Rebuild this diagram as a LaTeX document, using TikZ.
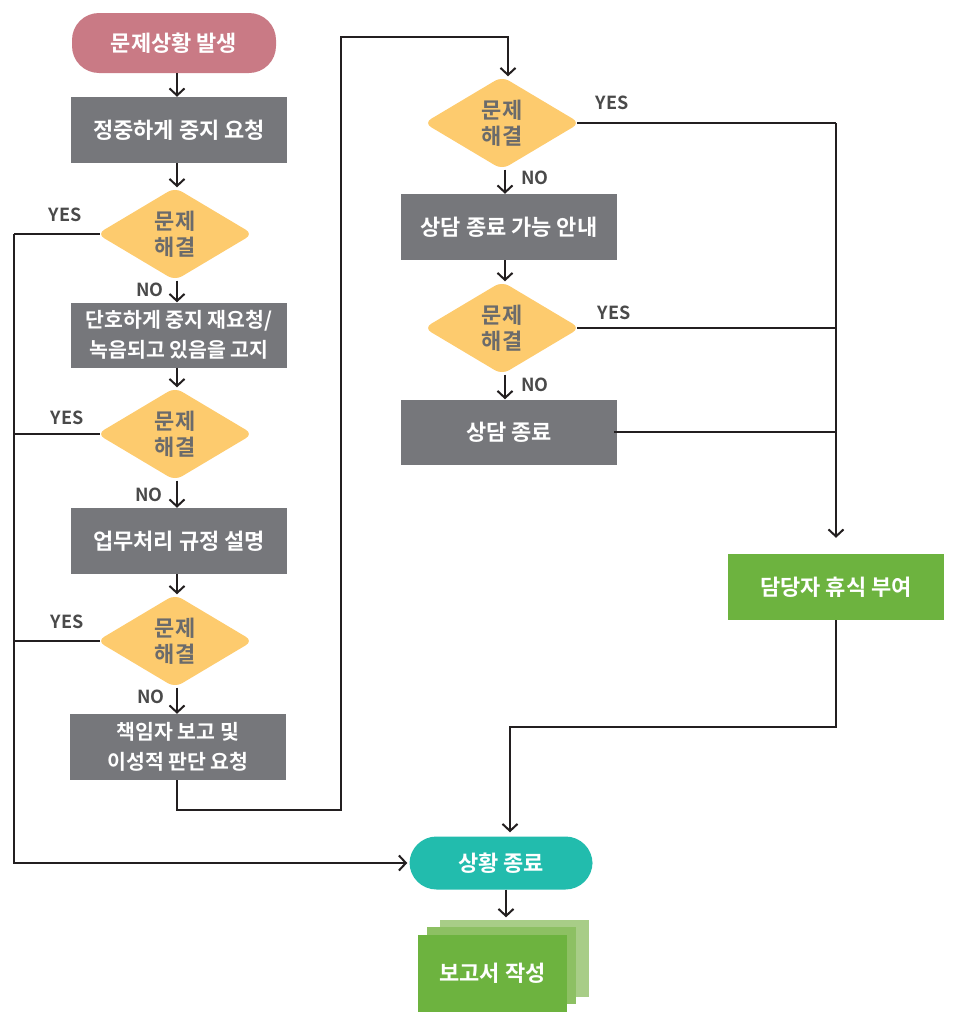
\documentclass[tikz,border=0pt]{standalone}
\usepackage{fontspec}
\setmainfont{Noto Sans CJK KR}[BoldFont={Noto Sans CJK KR Bold}]
\usetikzlibrary{arrows.meta,shapes.geometric}
\definecolor{lineC}{HTML}{231F20}
\definecolor{procC}{HTML}{76777B}
\definecolor{decC}{HTML}{FDCB6E}
\definecolor{decT}{HTML}{6B6B6B}
\definecolor{lblC}{HTML}{4A4A4A}
\definecolor{startC}{HTML}{C97A85}
\definecolor{endC}{HTML}{22BCAD}
\definecolor{greenC}{HTML}{6DB33F}
\definecolor{greenM}{HTML}{8DC063}
\definecolor{greenL}{HTML}{A8CD87}
\begin{document}
\begin{tikzpicture}[x=1pt,y=-1pt,
  line/.style={line width=2pt,draw=lineC},
  arr/.style={line,-{Straight Barb[length=7pt,width=15pt]}},
  txt/.style={font=\bfseries\fontsize{22}{26}\selectfont,align=center,inner sep=0pt},
  proc/.style={txt,rectangle,fill=procC,text=white,minimum width=216pt,minimum height=66pt},
  dec/.style={txt,diamond,aspect=1.68,fill=decC,text=decT,minimum width=156pt,minimum height=93pt,rounded corners=8pt},
  pill/.style={txt,rectangle,text=white,rounded corners=27pt},
  lbl/.style={font=\bfseries\fontsize{18}{20}\selectfont,text=lblC,inner sep=0pt},
  sheet/.style={rectangle,minimum width=149pt,minimum height=77pt,inner sep=0pt}
]
\useasboundingbox (0,0) rectangle (954,1012);

% left column
\node[pill,fill=startC,minimum width=204pt,minimum height=60pt] (start) at (174,43) {문제상황 발생};
\node[proc] (p1) at (179,130) {정중하게 중지 요청};
\node[dec] (d1) at (175,234) {문제\\해결};
\node[proc,minimum height=65pt,font=\bfseries\fontsize{20.5}{30}\selectfont] (p2) at (179,335) {단호하게 중지 재요청/\\녹음되고 있음을 고지};
\node[dec] (d2) at (175,434) {문제\\해결};
\node[proc] (p3) at (179,541) {업무처리 규정 설명};
\node[dec] (d3) at (175,641) {문제\\해결};
\node[proc,font=\bfseries\fontsize{20.5}{30}\selectfont] (p4) at (178,747) {책임자 보고 및\\ 이성적 판단 요청};

% right column
\node[dec] (d4) at (502,123) {문제\\해결};
\node[proc] (p5) at (509,227) {상담 종료 가능 안내};
\node[dec] (d5) at (502,328) {문제\\해결};
\node[proc,minimum height=65pt] (p6) at (509,432) {상담 종료};
\node[proc,fill=greenC] (g1) at (836,587) {담당자 휴식 부여};

% end of the flow and the report stack
\node[pill,fill=endC,minimum width=183pt,minimum height=53pt] (end) at (501,863) {상황 종료};
\node[sheet,fill=greenL] (rep3) at (514.5,958) {};
\node[sheet,fill=greenM] (rep2) at (501.5,965) {};
\node[sheet,fill=greenC,txt,text=white] (rep) at (492.5,973.5) {보고서 작성};

% routing points
\coordinate (lx) at (14,0);
\coordinate (j1a) at (341,810);
\coordinate (j1b) at (341,37);
\coordinate (j2) at (510,727);

% main path, left column
\draw[arr] ([xshift=2pt]start.south -| d1) -- ([xshift=2pt]d1 |- p1.north);
\draw[arr] ([xshift=2pt]p1.south -| d1) -- ([xshift=2pt]d1.north);
\draw[arr] ([xshift=2pt]d1.south) -- ([xshift=2pt]d1 |- p2.north);
\draw[arr] ([xshift=2pt]p2.south -| d2) -- ([xshift=2pt]d2.north);
\draw[arr] ([xshift=2pt]d2.south) -- ([xshift=2pt]d2 |- p3.north);
\draw[arr] ([xshift=2pt]p3.south -| d3) -- ([xshift=2pt]d3.north);
\draw[arr] ([xshift=2pt]d3.south) -- ([xshift=2pt]d3 |- p4.north);

% YES branches to the end
\draw[line] ([xshift=3pt]d1.west) -- (d1.west -| lx);
\draw[line] ([xshift=3pt]d2.west) -- (d2.west -| lx);
\draw[line] ([xshift=3pt]d3.west) -- (d3.west -| lx);
\draw[arr,shorten >=2pt] (d1.west -| lx) |- (end.west);

% over to the right column
\draw[arr] ([xshift=2pt]p4.south -| d3) |- (j1a) -- (j1b) -| ([xshift=6pt]d4.north);
\draw[arr] ([xshift=3pt]d4.south) -- ([xshift=3pt]d4 |- p5.north);
\draw[arr] ([xshift=3pt]p5.south -| d4) -- ([xshift=3pt]d5.north);
\draw[arr] ([xshift=3pt]d5.south) -- ([xshift=3pt]d5 |- p6.north);

% YES branches to the break
\draw[line] ([xshift=-3pt]d4.east) -- (d4.east -| g1);
\draw[line] ([xshift=-3pt]d5.east) -- (d5.east -| g1);
\draw[line] ([xshift=-3pt]p6.east) -- (p6.east -| g1);
\draw[arr,shorten >=16pt] (d4.east -| g1) -- (g1.north);

% back to the end and on to the report
\draw[arr,shorten >=4pt] (g1.south) |- (j2) -- (j2 |- end.north);
\draw[arr,shorten >=2pt] ([xshift=5pt]end.south) -- ([xshift=5pt]end.south |- rep3.north);

% branch labels
\node[lbl] (y1) at (65,215) {YES};
\node[lbl] (y2) at (67,418) {YES};
\node[lbl] (y3) at (67,622) {YES};
\node[lbl] (n1) at (150,290) {NO};
\node[lbl] (n2) at (149,495) {NO};
\node[lbl] (n3) at (151,697) {NO};
\node[lbl] (y4) at (612,103) {YES};
\node[lbl] (y5) at (614,313) {YES};
\node[lbl] (n4) at (535,178) {NO};
\node[lbl] (n5) at (535,385) {NO};
\end{tikzpicture}
\end{document}
